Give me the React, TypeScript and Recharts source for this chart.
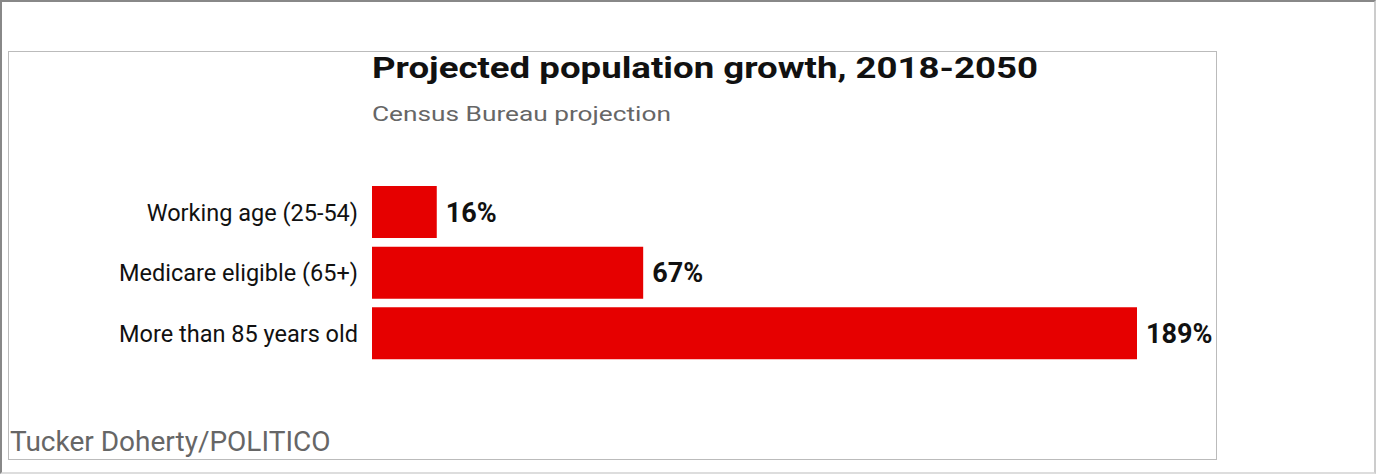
import React from 'react';
import { BarChart, Bar, XAxis, YAxis, LabelList } from 'recharts';

const categories = ['Working age (25-54)', 'Medicare eligible (65+)', 'More than 85 years old'];
const growth = [16, 67, 189];

const data = categories.map((name, i) => ({ name, value: growth[i] }));

const font = 'Roboto, "Noto Sans", sans-serif';

const App: React.FC = () => {
    return (
        <div style={{ position: 'absolute', left: 0, top: 0, width: 1376, height: 474, boxSizing: 'border-box', borderTop: '2px solid #888', borderLeft: '2px solid #888', borderRight: '2px solid #ccc', borderBottom: '2px solid #ddd', background: '#fff', fontFamily: font }}>
            <div style={{ position: 'absolute', left: 6, top: 49, width: 1207, height: 407, border: '1px solid #bbb' }} />
            <div style={{ position: 'absolute', left: 370, top: 48, fontSize: 30, fontWeight: 700, color: '#111', whiteSpace: 'nowrap', transform: 'scaleX(1.22)', transformOrigin: 'left top' }}>
                Projected population growth, 2018-2050
            </div>
            <div style={{ position: 'absolute', left: 370, top: 100, fontSize: 21, color: '#666', whiteSpace: 'nowrap', transform: 'scaleX(1.25)', transformOrigin: 'left top' }}>
                Census Bureau projection
            </div>
            <div style={{ position: 'absolute', left: 8, top: 423, fontSize: 28, color: '#666', whiteSpace: 'nowrap' }}>
                Tucker Doherty/POLITICO
            </div>
            <div style={{ position: 'absolute', left: -2, top: -2 }}>
                <BarChart width={1376} height={474} data={data} layout="vertical" margin={{ top: 182, right: 239, bottom: 110, left: 0 }}>
                    <XAxis type="number" domain={[0, 189]} hide />
                    <YAxis type="category" dataKey="name" axisLine={false} tickLine={false} width={372} tickMargin={8}
                        tick={{ fontSize: 23.5, fill: '#111', fontFamily: font }} />
                    <Bar dataKey="value" fill="#e60000" barSize={52} isAnimationActive={false}>
                        <LabelList dataKey="value" position="right" offset={9} formatter={(v: number) => `${v}%`}
                            style={{ fontSize: 27, fontWeight: 700, fill: '#111', fontFamily: font }} />
                    </Bar>
                </BarChart>
            </div>
        </div>
    );
};

export default App;
